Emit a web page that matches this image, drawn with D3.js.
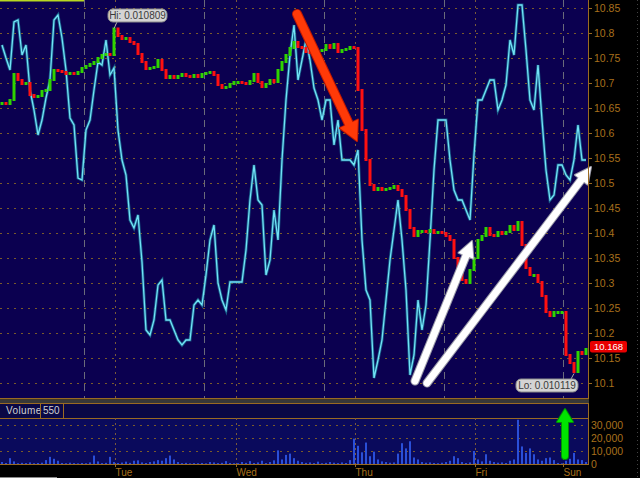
<!DOCTYPE html>
<html><head><meta charset="utf-8">
<script src="https://cdn.jsdelivr.net/npm/d3@7"></script>
<style>html,body{margin:0;padding:0;background:#000;overflow:hidden}svg{display:block}</style>
</head><body>
<svg id="c" width="640" height="478"></svg>
<script>
// ---- data ----
const closes = [10.660,10.658,10.666,10.718,10.706,10.698,10.700,10.676,10.672,10.674,10.684,10.686,10.706,10.726,10.724,10.722,10.718,10.720,10.718,10.722,10.730,10.734,10.738,10.742,10.750,10.756,10.758,10.756,10.809,10.794,10.788,10.790,10.782,10.778,10.758,10.742,10.728,10.730,10.732,10.746,10.726,10.710,10.714,10.710,10.714,10.718,10.714,10.712,10.716,10.712,10.718,10.720,10.722,10.716,10.696,10.690,10.692,10.698,10.702,10.702,10.700,10.698,10.704,10.718,10.702,10.692,10.698,10.706,10.702,10.726,10.742,10.756,10.770,10.782,10.772,10.770,10.762,10.760,10.760,10.764,10.766,10.776,10.770,10.778,10.762,10.766,10.768,10.772,10.770,10.686,10.606,10.546,10.496,10.486,10.490,10.486,10.488,10.490,10.494,10.486,10.474,10.446,10.410,10.394,10.404,10.404,10.402,10.406,10.400,10.402,10.400,10.394,10.386,10.350,10.326,10.306,10.300,10.326,10.350,10.386,10.394,10.410,10.396,10.394,10.402,10.398,10.402,10.414,10.406,10.422,10.376,10.330,10.316,10.316,10.302,10.274,10.242,10.234,10.242,10.242,10.242,10.156,10.140,10.122,10.162,10.158,10.168];
const indicator = [176.5,170,164,188,189,171.5,176.5,154,144,131.5,139,150,159,189,191.5,180,164,140,136.5,110,109,134,139,154,168,166.5,179,161.5,165,134,119,111.5,89,85,91.5,68,34,31.5,39,56.5,59,39,39,34,29,26.5,29,29,46.5,49,46.5,61.5,79,86.5,57.5,49,44,58,58,58,58,74,99,116.5,99,96.5,61.5,69,94,79,119,149,171.5,186.5,159,169,179,169,155,149,139,149,149,126.5,139,119,119,119,116.5,124,79,54,49,10,19,29,49,69,84,99,79,54,11.5,21.5,49,34,46.5,79,114,139,139,139,119,104,99,99,94,89,121.5,149,149,154,159,159,144,149,156.5,179,171.5,196.5,196.5,174,149,144,166.5,139,114,99,101.5,116.5,116.5,111.5,109,119,136.5,119,119];
const volume = [1500,800,4500,2000,600,900,700,1200,600,800,1000,3000,5500,4000,2500,800,600,1000,700,500,800,600,1200,6500,2000,700,900,5500,1500,800,1100,1800,900,2500,2800,1200,800,1500,2000,3000,2500,4500,6500,3500,1500,700,900,500,700,600,800,500,1500,1200,700,900,2200,800,600,700,1500,900,2200,800,1200,2500,700,1500,2800,10500,3500,7000,8000,4500,2500,1500,900,1200,700,1800,600,900,1500,1000,700,1200,800,3000,19500,14000,9000,16500,6000,9500,3500,2000,1500,1000,1200,8000,16000,12000,17500,5000,3500,1500,1000,1200,800,600,1000,1500,2500,6000,4500,1500,800,1200,10000,3500,2000,7500,2500,1500,1000,1200,800,2500,3500,34000,13500,8500,12000,7500,3500,2500,4500,5000,3000,800,500,2500,4000,8500,3500,3000,1500];
const priceTicks = [10.1,10.15,10.2,10.25,10.3,10.35,10.4,10.45,10.5,10.55,10.6,10.65,10.7,10.75,10.8,10.85];
const volTicks = [0,10000,20000,30000];
const dayLabels = ["Tue","Wed","Thu","Fri","Sun"];
const dayIndex = [28.25,58.5,88.25,118.25,140.25];     // bar index of each day boundary
const sessionIndex = [20.5,50.5,80.5,110.5,140.25];     // bar index of session marks
const lastPrice = 10.168, hiPrice = 10.809, loPrice = 10.119;
const hiIdx = 28, loIdx = 143;

// ---- layout ----
const svg = d3.select("#c");
const W = 640, PR = 588, MT = 0, MB = 398;
const N = closes.length;
const x = d3.scaleLinear().domain([0, N - 1]).range([2, 586]);
const y = d3.scaleLinear().domain([10.1, 10.85]).range([383, 8]);
const yInd = d3.scaleLinear().domain([0, 200]).range([398, -2]);
const yVol = d3.scaleLinear().domain([0, 30000]).range([464, 425]);
const brown = "#9a6a22", tickCol = "#a8701c";
const font = "'Liberation Sans', Arial, sans-serif";

svg.append("rect").attr("width", W).attr("height", 478).attr("fill", "#000");
// main panel
svg.append("rect").attr("x", 0).attr("y", MT).attr("width", PR).attr("height", MB).attr("fill", "#0b0050");
// horizontal grid
svg.append("g").selectAll("line").data(priceTicks).join("line")
  .attr("x1", 0).attr("x2", PR).attr("y1", d => Math.round(y(d)) + 0.5).attr("y2", d => Math.round(y(d)) + 0.5)
  .attr("stroke", "#7a5a2a").attr("stroke-dasharray", "2,5");
// vertical day lines (dotted)
svg.append("g").selectAll("line").data(dayIndex.slice(0, 4)).join("line")
  .attr("x1", d => Math.round(x(d)) + 0.5).attr("x2", d => Math.round(x(d)) + 0.5).attr("y1", 0).attr("y2", MB)
  .attr("stroke", "#7a5a3a").attr("stroke-dasharray", "2,4");
// session lines (long dashes)
svg.append("g").selectAll("line").data(sessionIndex).join("line")
  .attr("x1", d => Math.round(x(d)) + 0.5).attr("x2", d => Math.round(x(d)) + 0.5).attr("y1", 0).attr("y2", MB)
  .attr("stroke", "#6a6a7a").attr("stroke-dasharray", "7,5");
// yellow highlight top-left
svg.append("line").attr("x1", 0).attr("x2", Math.round(x(sessionIndex[0]))).attr("y1", 0.5).attr("y2", 0.5)
  .attr("stroke", "#b8d820").attr("stroke-width", 2);

// indicator (cyan)
const indLine = d3.line().x((d, i) => x(i)).y(d => yInd(d));
svg.append("path").datum(indicator).attr("d", indLine).attr("fill", "none")
  .attr("stroke", "#1d7f9c").attr("stroke-width", 3).attr("stroke-opacity", 0.7);
svg.append("path").datum(indicator).attr("d", indLine).attr("fill", "none")
  .attr("stroke", "#72e2f6").attr("stroke-width", 1.3);

// candles
const candles = closes.map((c, i) => ({ i, o: i ? closes[i - 1] : c, c }));
svg.append("g").selectAll("rect").data(candles).join("rect")
  .attr("x", d => x(d.i) - 1.5).attr("width", 3)
  .attr("y", d => Math.min(y(d.o), y(d.c)) - 1)
  .attr("height", d => Math.max(3, Math.abs(y(d.o) - y(d.c)) + 2))
  .attr("fill", d => d.c >= d.o ? "#2fd400" : "#ff1010");

// Hi / Lo labels
function tag(idx, price, txt, bx, by, bw, above) {
  const g = svg.append("g");
  const px = x(idx), py = y(price);
  g.append("line").attr("x1", px).attr("y1", py).attr("x2", above ? px + 3 : px - 3).attr("y2", above ? by + 13 : by)
    .attr("stroke", "#aaa").attr("stroke-width", 1);
  g.append("rect").attr("x", bx).attr("y", by).attr("width", bw).attr("height", 13).attr("rx", 5)
    .attr("fill", "#d4d4d4").attr("stroke", "#8a8a8a");
  g.append("text").attr("x", bx + bw / 2).attr("y", by + 10).attr("text-anchor", "middle")
    .attr("font-family", font).attr("font-size", 10).attr("fill", "#3a3a3a").text(txt);
}
tag(hiIdx, hiPrice, "Hi: 0.010809", 108, 9, 59, true);
tag(loIdx, loPrice, "Lo: 0.010119", 516, 379, 62, false);

// arrows
function arrow(x1, y1, x2, y2, col, w, hl, hw, shadow) {
  const dx = x2 - x1, dy = y2 - y1, L = Math.hypot(dx, dy), ux = dx / L, uy = dy / L;
  const bx = x2 - ux * hl, by = y2 - uy * hl, px = -uy * hw, py = ux * hw;
  const g = svg.append("g");
  const draw = (c, extra, off) => {
    g.append("line").attr("x1", x1 + off).attr("y1", y1 + off).attr("x2", bx + ux * 2 + off).attr("y2", by + uy * 2 + off)
      .attr("stroke", c).attr("stroke-width", w + extra).attr("stroke-linecap", "round");
    g.append("path").attr("d", `M${x2 + off},${y2 + off}L${bx + px + off},${by + py + off}L${bx - px + off},${by - py + off}Z`)
      .attr("fill", c).attr("stroke", c).attr("stroke-width", extra).attr("stroke-linejoin", "round");
  };
  if (shadow) draw(shadow, 2, 0);
  draw(col, 0, 0);
}
arrow(297, 14, 357, 141, "#ff3a08", 8, 19, 10, "#c01800");
arrow(415, 381, 472, 241, "#ffffff", 7, 16, 8, "#9a9aa8");
arrow(427, 383, 591, 167, "#ffffff", 7, 16, 8, "#9a9aa8");

// right axis
svg.append("line").attr("x1", PR + 0.5).attr("x2", PR + 0.5).attr("y1", 0).attr("y2", MB).attr("stroke", brown);
const fmt = d => d3.format(".2f")(d).replace(/0$/, "");
const ax = svg.append("g").attr("transform", `translate(${PR},0)`)
  .call(d3.axisRight(y).tickValues(priceTicks).tickFormat(fmt).tickSize(4).tickPadding(2));
ax.select(".domain").remove();
ax.selectAll("line").attr("stroke", brown);
ax.selectAll("text").attr("fill", tickCol).attr("font-family", font).attr("font-size", 10.5);
// faint far right dotted line
svg.append("line").attr("x1", 637.5).attr("x2", 637.5).attr("y1", 0).attr("y2", 478)
  .attr("stroke", "#444").attr("stroke-dasharray", "1,3");

// last price tag
const ly = Math.round(y(lastPrice));
svg.append("rect").attr("x", 590).attr("y", ly - 8).attr("width", 37).attr("height", 11.5).attr("rx", 2)
  .attr("fill", "#e80000");
svg.append("text").attr("x", 608.5).attr("y", ly + 0.5).attr("text-anchor", "middle")
  .attr("font-family", font).attr("font-size", 9.5).attr("fill", "#fff").text(d3.format(".3f")(lastPrice));

// separator band
svg.append("rect").attr("x", 0).attr("y", 398).attr("width", PR + 1).attr("height", 1.5).attr("fill", brown);
svg.append("rect").attr("x", 0).attr("y", 399.5).attr("width", PR + 1).attr("height", 3.5).attr("fill", "#383838");
svg.append("rect").attr("x", 0).attr("y", 403).attr("width", PR + 1).attr("height", 1).attr("fill", brown);
// volume header
svg.append("rect").attr("x", 0).attr("y", 404).attr("width", PR).attr("height", 14).attr("fill", "#0a0845");
svg.append("text").attr("x", 6).attr("y", 414).attr("font-family", font).attr("font-size", 10)
  .attr("fill", "#d0d0d0").attr("letter-spacing", 0.4).text("Volume");
svg.append("text").attr("x", 43).attr("y", 414).attr("font-family", font).attr("font-size", 10)
  .attr("fill", "#d0d0d0").text("550");
[40.5, 63.5].forEach(v => svg.append("line").attr("x1", v).attr("x2", v).attr("y1", 404).attr("y2", 418).attr("stroke", brown));
svg.append("line").attr("x1", PR + 0.5).attr("x2", PR + 0.5).attr("y1", 403).attr("y2", 464).attr("stroke", brown);

// volume panel
svg.append("rect").attr("x", 0).attr("y", 418).attr("width", PR).attr("height", 46).attr("fill", "#0a0a5c");
svg.append("line").attr("x1", 0).attr("x2", PR + 1).attr("y1", 418.5).attr("y2", 418.5).attr("stroke", brown);
svg.append("g").selectAll("line").data(volTicks.slice(1)).join("line")
  .attr("x1", 0).attr("x2", PR).attr("y1", d => Math.round(yVol(d)) + 0.5).attr("y2", d => Math.round(yVol(d)) + 0.5)
  .attr("stroke", "#7a5a2a").attr("stroke-dasharray", "2,5");
svg.append("g").selectAll("line").data(dayIndex).join("line")
  .attr("x1", d => Math.round(x(d)) + 0.5).attr("x2", d => Math.round(x(d)) + 0.5).attr("y1", 418).attr("y2", 464)
  .attr("stroke", "#7a5a3a").attr("stroke-dasharray", "2,3");
svg.append("g").selectAll("rect").data(volume).join("rect")
  .attr("x", (d, i) => x(i) - 1).attr("width", 2)
  .attr("y", d => yVol(d)).attr("height", d => yVol(0) - yVol(d))
  .attr("fill", "#2a4fd8");
const vax = svg.append("g").attr("transform", `translate(${PR},0)`)
  .call(d3.axisRight(yVol).tickValues(volTicks).tickFormat(d3.format(",")).tickSize(0).tickPadding(3));
vax.select(".domain").remove();
vax.selectAll("text").attr("fill", tickCol).attr("font-family", font).attr("font-size", 10.5);
svg.append("line").attr("x1", 0).attr("x2", PR + 1).attr("y1", 464.5).attr("y2", 464.5).attr("stroke", brown);

// green arrow
arrow(565, 456, 565, 409, "#00e400", 6, 13, 8, "#009000");

// time axis
svg.append("g").selectAll("text").data(dayLabels).join("text")
  .attr("x", (d, i) => Math.round(x(dayIndex[i])) + 0.5).attr("y", 476)
  .attr("font-family", font).attr("font-size", 10).attr("fill", tickCol).text(d => d);
svg.append("g").selectAll("line").data(dayIndex).join("line")
  .attr("x1", d => Math.round(x(d)) + 0.5).attr("x2", d => Math.round(x(d)) + 0.5).attr("y1", 465).attr("y2", 467)
  .attr("stroke", brown);
svg.append("line").attr("x1", 0).attr("x2", 57).attr("y1", 477.5).attr("y2", 477.5).attr("stroke", "#8a8a8a");
</script>
</body></html>
